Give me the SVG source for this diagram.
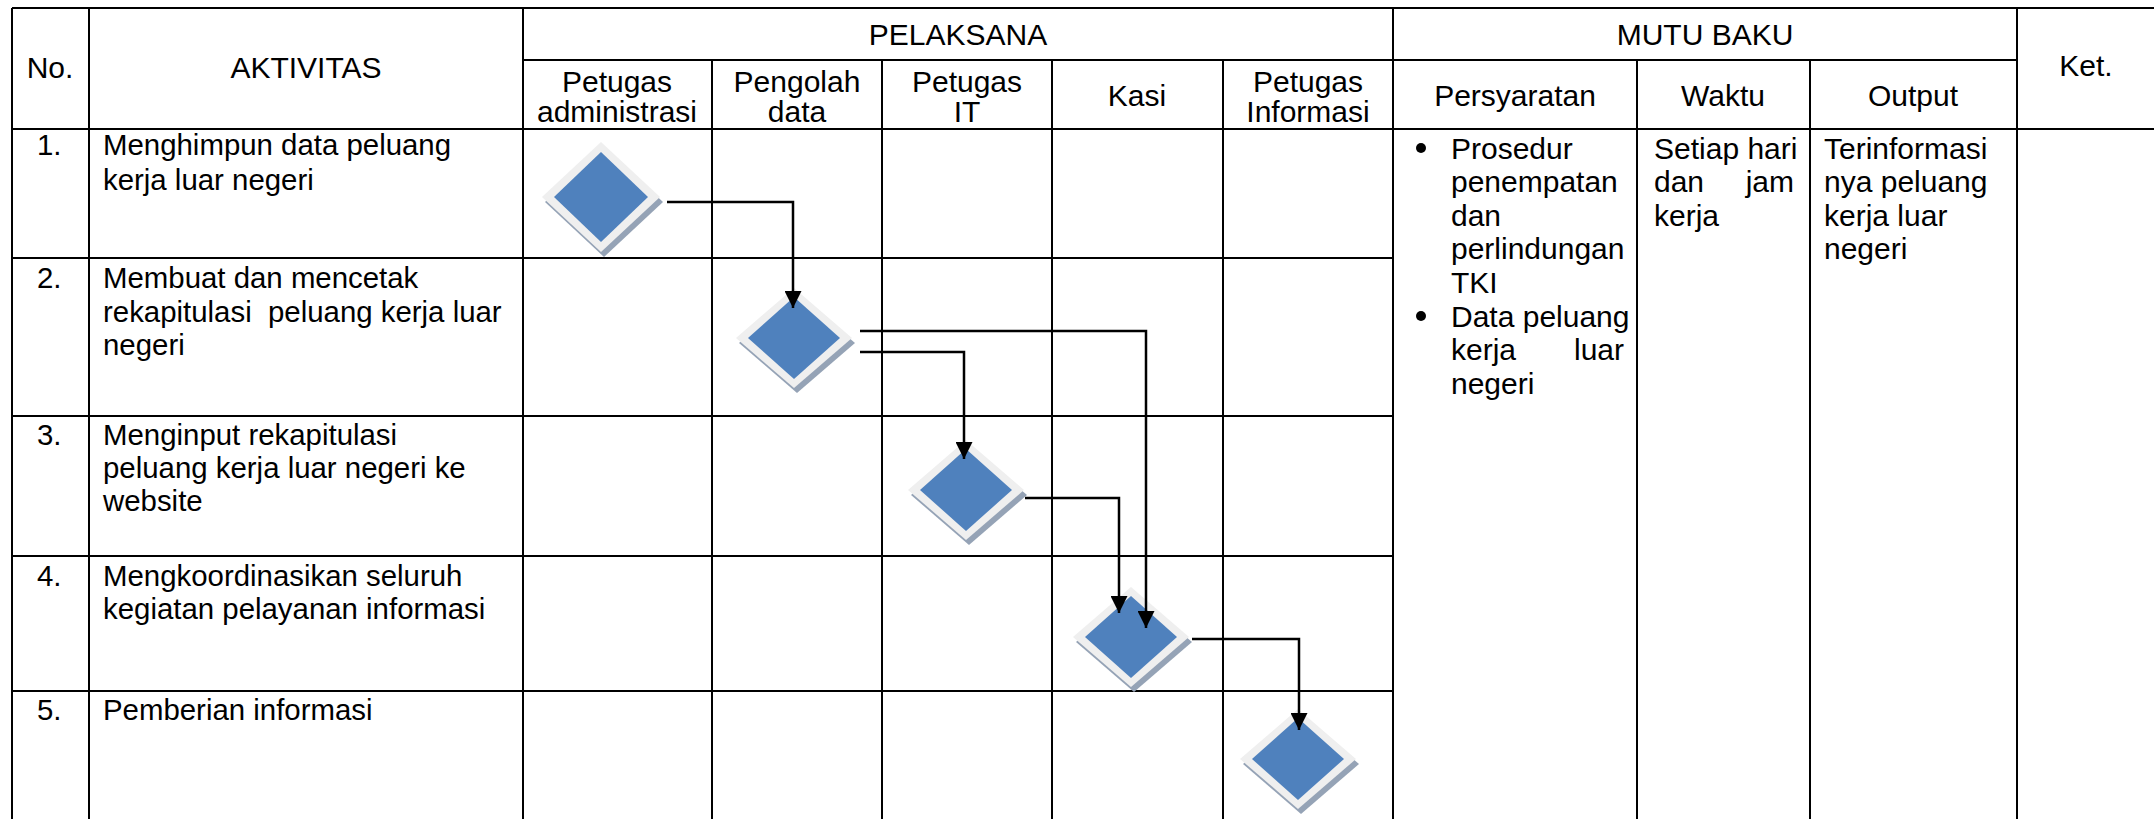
<svg xmlns="http://www.w3.org/2000/svg" width="2154" height="819" viewBox="0 0 2154 819">
  <style>
    .grid { stroke: #000; stroke-width: 2; fill: none; }
    .t { font-family: "Liberation Sans", Arial, sans-serif; font-size: 30px; fill: #000; }
    .b { font-size: 29.4px; }
    .c { text-anchor: middle; }
    .r { text-anchor: end; }
    .flow { stroke: #000; stroke-width: 2.5; fill: none; marker-end: url(#arrow); }
  </style>
  <defs>
    <marker id="arrow" viewBox="0 0 10 10" refX="10" refY="5" markerWidth="17" markerHeight="17" markerUnits="userSpaceOnUse" orient="auto">
      <path d="M0,0 L10,5 L0,10 z" fill="#000"/>
    </marker>
    <!-- process diamond: drop shadow, pale bevel rim, blue face -->
    <g id="diamond">
      <polygon points="3,-45 61,5 3,55 -55,5" fill="#95a3b6"/>
      <polygon points="0,-50 58,0 0,50 -58,0" fill="#efefef"/>
      <polygon points="0,-41 46,0 0,41 -46,0" fill="#4f81bd"/>
    </g>
    <g id="diamond-tall">
      <polygon points="3,-50 62,5 3,60 -56,5" fill="#95a3b6"/>
      <polygon points="0,-55 59,0 0,55 -59,0" fill="#efefef"/>
      <polygon points="0,-45 47,0 0,45 -47,0" fill="#4f81bd"/>
    </g>
  </defs>

  <rect width="2154" height="819" fill="#fff"/>

  <!-- table grid -->
  <g id="table" class="grid">
    <line x1="12" y1="8" x2="2154" y2="8"/>
    <line x1="523" y1="60" x2="2017" y2="60"/>
    <line x1="12" y1="129" x2="2154" y2="129"/>
    <line x1="12" y1="258" x2="1393" y2="258"/>
    <line x1="12" y1="416" x2="1393" y2="416"/>
    <line x1="12" y1="556" x2="1393" y2="556"/>
    <line x1="12" y1="691" x2="1393" y2="691"/>
    <line x1="12" y1="8" x2="12" y2="819"/>
    <line x1="89" y1="8" x2="89" y2="819"/>
    <line x1="523" y1="8" x2="523" y2="819"/>
    <line x1="712" y1="60" x2="712" y2="819"/>
    <line x1="882" y1="60" x2="882" y2="819"/>
    <line x1="1052" y1="60" x2="1052" y2="819"/>
    <line x1="1223" y1="60" x2="1223" y2="819"/>
    <line x1="1393" y1="8" x2="1393" y2="819"/>
    <line x1="1637" y1="60" x2="1637" y2="819"/>
    <line x1="1810" y1="60" x2="1810" y2="819"/>
    <line x1="2017" y1="8" x2="2017" y2="819"/>
  </g>

  <!-- column headings -->
  <g id="header" class="t">
    <text class="c" x="50" y="78">No.</text>
    <text class="c" x="306" y="78">AKTIVITAS</text>
    <text class="c" x="958" y="45">PELAKSANA</text>
    <text class="c" x="1705" y="45">MUTU BAKU</text>
    <text class="c" x="2086" y="76">Ket.</text>
    <text class="c" x="617" y="92">Petugas</text>
    <text class="c" x="617" y="122">administrasi</text>
    <text class="c" x="797" y="92">Pengolah</text>
    <text class="c" x="797" y="122">data</text>
    <text class="c" x="967" y="92">Petugas</text>
    <text class="c" x="967" y="122">IT</text>
    <text class="c" x="1137" y="106">Kasi</text>
    <text class="c" x="1308" y="92">Petugas</text>
    <text class="c" x="1308" y="122">Informasi</text>
    <text class="c" x="1515" y="106">Persyaratan</text>
    <text class="c" x="1723" y="106">Waktu</text>
    <text class="c" x="1913" y="106">Output</text>
  </g>

  <!-- activity rows -->
  <g id="row-1" class="t b">
    <text x="37" y="155">1.</text>
    <text x="103" y="155">Menghimpun data peluang</text>
    <text x="103" y="190">kerja luar negeri</text>
  </g>
  <g id="row-2" class="t b">
    <text x="37" y="288">2.</text>
    <text x="103" y="288">Membuat dan mencetak</text>
    <text x="103" y="322" xml:space="preserve">rekapitulasi  peluang kerja luar</text>
    <text x="103" y="355">negeri</text>
  </g>
  <g id="row-3" class="t b">
    <text x="37" y="445">3.</text>
    <text x="103" y="445">Menginput rekapitulasi</text>
    <text x="103" y="478">peluang kerja luar negeri ke</text>
    <text x="103" y="511">website</text>
  </g>
  <g id="row-4" class="t b">
    <text x="37" y="586">4.</text>
    <text x="103" y="586">Mengkoordinasikan seluruh</text>
    <text x="103" y="619">kegiatan pelayanan informasi</text>
  </g>
  <g id="row-5" class="t b">
    <text x="37" y="720">5.</text>
    <text x="103" y="720">Pemberian informasi</text>
  </g>

  <!-- quality standard columns -->
  <g id="persyaratan" class="t">
    <circle cx="1421" cy="148" r="5" fill="#000"/>
    <text x="1451" y="159">Prosedur</text>
    <text x="1451" y="192">penempatan</text>
    <text x="1451" y="226">dan</text>
    <text x="1451" y="259">perlindungan</text>
    <text x="1451" y="293">TKI</text>
    <circle cx="1421" cy="316" r="5" fill="#000"/>
    <text x="1451" y="327">Data peluang</text>
    <text x="1451" y="360">kerja</text>
    <text class="r" x="1624" y="360">luar</text>
    <text x="1451" y="394">negeri</text>
  </g>
  <g id="waktu" class="t">
    <text x="1654" y="159">Setiap hari</text>
    <text x="1654" y="192">dan</text>
    <text class="r" x="1794" y="192">jam</text>
    <text x="1654" y="226">kerja</text>
  </g>
  <g id="output" class="t">
    <text x="1824" y="159">Terinformasi</text>
    <text x="1824" y="192">nya peluang</text>
    <text x="1824" y="226">kerja luar</text>
    <text x="1824" y="259">negeri</text>
  </g>

  <!-- process steps -->
  <g id="step-1"><use href="#diamond-tall" x="601" y="197"/></g>
  <g id="step-2"><use href="#diamond" x="794" y="338"/></g>
  <g id="step-3"><use href="#diamond" x="966" y="490"/></g>
  <g id="step-4"><use href="#diamond" x="1131" y="637"/></g>
  <g id="step-5"><use href="#diamond" x="1298" y="759"/></g>

  <!-- flow connectors -->
  <g id="connectors">
    <path class="flow" d="M667,202 H793 V308"/>
    <path class="flow" d="M860,331 H1146 V628"/>
    <path class="flow" d="M860,352 H964 V459"/>
    <path class="flow" d="M1025,498 H1119 V613"/>
    <path class="flow" d="M1192,639 H1299 V730"/>
  </g>
</svg>
